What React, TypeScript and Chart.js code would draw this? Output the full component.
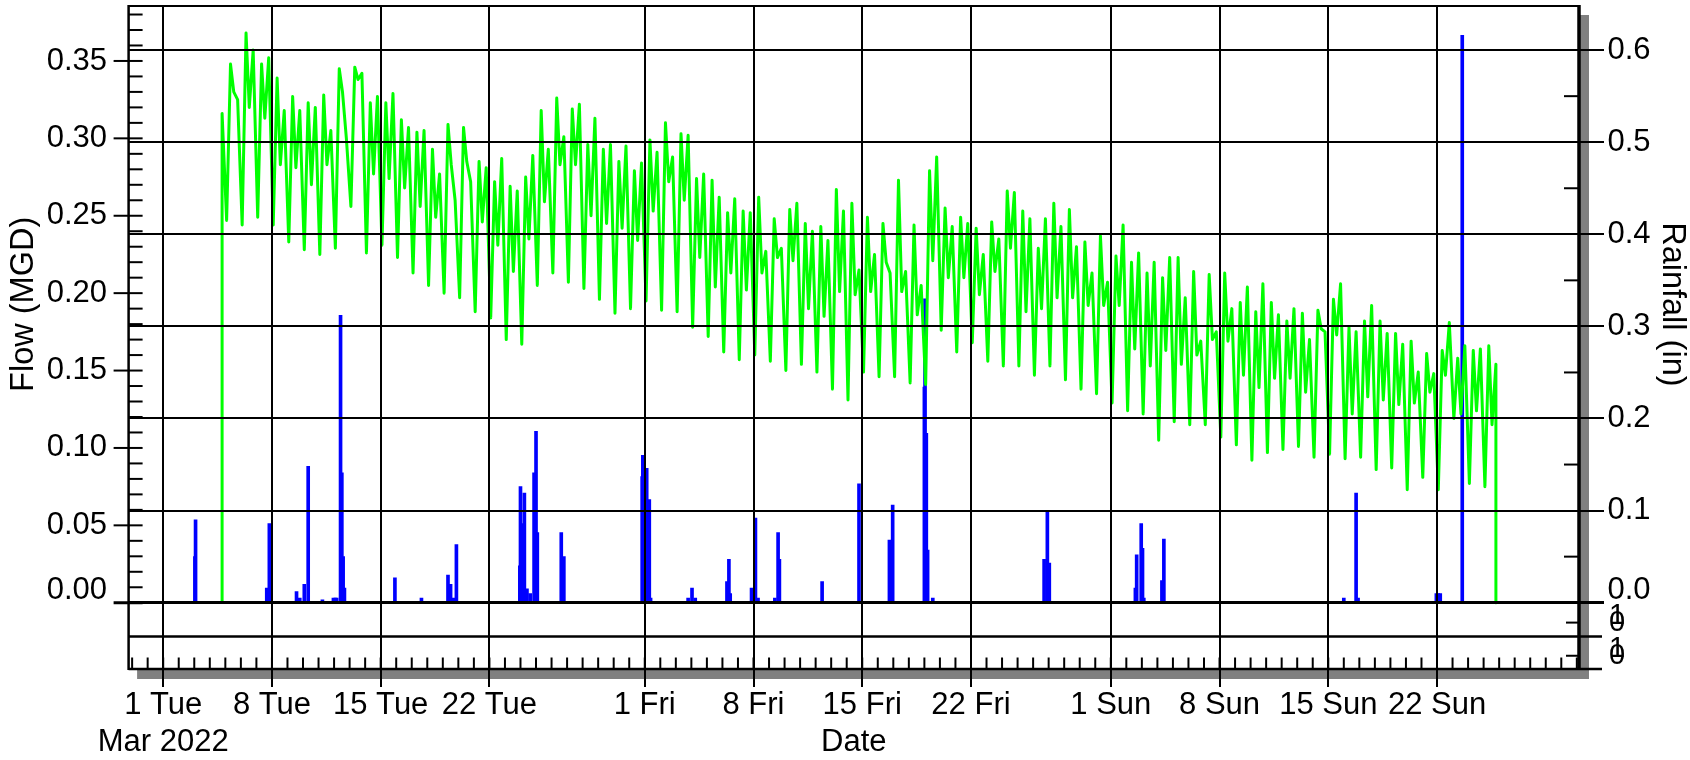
import { useEffect, useRef } from "react";
import { Chart, registerables } from "chart.js";

Chart.register(...registerables);

// ---------------------------------------------------------------------------
// Data
// ---------------------------------------------------------------------------

// Flow (MGD): one row per calendar day, readings taken at the hours in flowSampleHours.
const flowFirstDay = "2022-03-04";
const flowSampleHours = [2, 8, 13, 19];
const flowDaily: (number | null)[][] = [
  [null, null, null, 0.316], // Mar 4 (meter online)
  [0.247, 0.348, 0.33, 0.325],
  [0.244, 0.368, 0.32, 0.357],
  [0.249, 0.348, 0.313, 0.352],
  [0.244, 0.339, 0.283, 0.318],
  [0.233, 0.327, 0.281, 0.318],
  [0.228, 0.323, 0.27, 0.32],
  [0.225, 0.328, 0.283, 0.305],
  [0.229, 0.345, 0.33, 0.3],
  [0.256, 0.346, 0.338, 0.342],
  [0.226, 0.323, 0.277, 0.327],
  [0.231, 0.323, 0.274, 0.329],
  [0.223, 0.312, 0.268, 0.307],
  [0.213, 0.304, 0.256, 0.305],
  [0.205, 0.293, 0.249, 0.277],
  [0.2, 0.309, 0.283, 0.26],
  [0.197, 0.307, 0.285, 0.272],
  [0.188, 0.285, 0.246, 0.281],
  [0.184, 0.272, 0.231, 0.287],
  [0.17, 0.269, 0.214, 0.266],
  [0.167, 0.275, 0.235, 0.289],
  [0.205, 0.318, 0.259, 0.293],
  [0.213, 0.326, 0.283, 0.301],
  [0.207, 0.319, 0.283, 0.322],
  [0.203, 0.296, 0.25, 0.313],
  [0.196, 0.293, 0.245, 0.296],
  [0.187, 0.285, 0.242, 0.295],
  [0.19, 0.279, 0.234, 0.284],
  [0.195, 0.299, 0.253, 0.291], // Apr 1
  [0.189, 0.31, 0.272, 0.288],
  [0.188, 0.303, 0.26, 0.302],
  [0.178, 0.274, 0.223, 0.277],
  [0.172, 0.273, 0.204, 0.262],
  [0.162, 0.252, 0.213, 0.261],
  [0.157, 0.253, 0.202, 0.252],
  [0.16, 0.262, 0.213, 0.227],
  [0.156, 0.248, 0.223, 0.229],
  [0.15, 0.254, 0.221, 0.258],
  [0.154, 0.245, 0.19, 0.24],
  [0.149, 0.243, 0.185, 0.234],
  [0.138, 0.267, 0.201, 0.253],
  [0.131, 0.258, 0.199, 0.215],
  [0.149, 0.249, 0.201, 0.225],
  [0.146, 0.245, 0.22, 0.213],
  [0.146, 0.273, 0.201, 0.214],
  [0.142, 0.244, 0.186, 0.205],
  [0.141, 0.279, 0.221, 0.288],
  [0.176, 0.255, 0.21, 0.243],
  [0.162, 0.249, 0.21, 0.245],
  [0.168, 0.242, 0.199, 0.225],
  [0.156, 0.246, 0.214, 0.235],
  [0.153, 0.266, 0.229, 0.265],
  [0.153, 0.253, 0.188, 0.248],
  [0.147, 0.229, 0.19, 0.248],
  [0.153, 0.258, 0.197, 0.243],
  [0.144, 0.254, 0.197, 0.23],
  [0.138, 0.233, 0.192, 0.213],
  [0.135, 0.237, 0.192, 0.207],
  [0.129, 0.224, 0.192, 0.244], // May 1
  [0.124, 0.22, 0.164, 0.226],
  [0.122, 0.213, 0.153, 0.22],
  [0.105, 0.21, 0.163, 0.223],
  [0.117, 0.223, 0.154, 0.197],
  [0.115, 0.214, 0.16, 0.169],
  [0.115, 0.212, 0.17, 0.175],
  [0.107, 0.213, 0.169, 0.19],
  [0.102, 0.194, 0.147, 0.204],
  [0.092, 0.188, 0.139, 0.206],
  [0.097, 0.194, 0.145, 0.186],
  [0.099, 0.182, 0.145, 0.19],
  [0.101, 0.187, 0.136, 0.17],
  [0.094, 0.189, 0.177, 0.175],
  [0.096, 0.196, 0.173, 0.206],
  [0.093, 0.178, 0.122, 0.175],
  [0.094, 0.182, 0.133, 0.192],
  [0.086, 0.182, 0.131, 0.174],
  [0.087, 0.174, 0.128, 0.167],
  [0.073, 0.169, 0.129, 0.149],
  [0.081, 0.161, 0.136, 0.148],
  [0.073, 0.163, 0.147, 0.181],
  [0.119, 0.158, 0.122, 0.166],
  [0.077, 0.163, 0.124, 0.164],
  [0.075, 0.166, 0.115, 0.154], // May 25 (meter removed)
];

// Hourly rainfall (in), only the hours with a recorded tip.
const rainTimes = [
  "2022-03-03 01:00", "2022-03-03 02:00", "2022-03-07 16:00", "2022-03-07 20:00",
  "2022-03-09 14:00", "2022-03-09 19:00", "2022-03-10 02:00", "2022-03-10 08:00",
  "2022-03-11 06:00", "2022-03-11 23:00", "2022-03-12 02:00", "2022-03-12 04:00",
  "2022-03-12 10:00", "2022-03-12 12:00", "2022-03-12 14:00", "2022-03-12 16:00",
  "2022-03-15 22:00", "2022-03-17 15:00", "2022-03-19 08:00", "2022-03-19 12:00",
  "2022-03-19 17:00", "2022-03-19 21:00", "2022-03-23 23:00", "2022-03-24 00:00",
  "2022-03-24 03:00", "2022-03-24 06:00", "2022-03-24 10:00", "2022-03-24 15:00",
  "2022-03-24 21:00", "2022-03-25 00:00", "2022-03-25 02:00", "2022-03-26 15:00",
  "2022-03-26 19:00", "2022-03-31 20:00", "2022-03-31 21:00", "2022-03-31 23:00",
  "2022-04-01 03:00", "2022-04-01 07:00", "2022-04-01 09:00", "2022-04-03 19:00",
  "2022-04-04 01:00", "2022-04-04 06:00", "2022-04-06 07:00", "2022-04-06 10:00",
  "2022-04-06 12:00", "2022-04-07 21:00", "2022-04-08 03:00", "2022-04-08 07:00",
  "2022-04-09 09:00", "2022-04-09 14:00", "2022-04-09 16:00", "2022-04-12 10:00",
  "2022-04-14 19:00", "2022-04-16 18:00", "2022-04-16 23:00", "2022-04-19 00:00",
  "2022-04-19 01:00", "2022-04-19 03:00", "2022-04-19 05:00", "2022-04-19 13:00",
  "2022-04-26 17:00", "2022-04-26 22:00", "2022-04-27 01:00", "2022-05-02 14:00",
  "2022-05-02 16:00", "2022-05-02 23:00", "2022-05-03 01:00", "2022-05-03 03:00",
  "2022-05-04 07:00", "2022-05-04 10:00", "2022-05-16 00:00", "2022-05-16 19:00",
  "2022-05-16 22:00", "2022-05-21 23:00", "2022-05-22 02:00", "2022-05-22 05:00",
  "2022-05-23 15:00",
];
const rainValues = [
  0.05, 0.09, 0.016, 0.086,
  0.012, 0.005, 0.02, 0.148,
  0.003, 0.005, 0.005, 0.005,
  0.312, 0.141, 0.05, 0.016,
  0.027, 0.005, 0.03, 0.02,
  0.005, 0.063, 0.04, 0.126,
  0.086, 0.119, 0.015, 0.01,
  0.141, 0.186, 0.076, 0.076,
  0.05, 0.137, 0.16, 0.03,
  0.146, 0.112, 0.005, 0.005,
  0.016, 0.005, 0.023, 0.047,
  0.01, 0.016, 0.092, 0.005,
  0.005, 0.076, 0.047, 0.023,
  0.129, 0.068, 0.106, 0.234,
  0.33, 0.184, 0.057, 0.005,
  0.047, 0.099, 0.043, 0.016,
  0.052, 0.086, 0.059, 0.005,
  0.024, 0.069, 0.005, 0.119,
  0.005, 0.01, 0.01, 0.01,
  0.616,
];

// Axis ticks and labels
const flowTicks = [0, 0.05, 0.1, 0.15, 0.2, 0.25, 0.3, 0.35];
const rainTicks = [0, 0.1, 0.2, 0.3, 0.4, 0.5, 0.6];
const dateTickDates = [
  "2022-03-01", "2022-03-08", "2022-03-15", "2022-03-22",
  "2022-04-01", "2022-04-08", "2022-04-15", "2022-04-22",
  "2022-05-01", "2022-05-08", "2022-05-15", "2022-05-22",
];
const dateTickLabels = [
  "1 Tue", "8 Tue", "15 Tue", "22 Tue",
  "1 Fri", "8 Fri", "15 Fri", "22 Fri",
  "1 Sun", "8 Sun", "15 Sun", "22 Sun",
];
const dateTickYearLabel = "Mar 2022";
const stripLabels = ["1", "0"];

// Axis ranges
const dateAxisStart = "2022-02-26 18:33";
const dateAxisEnd = "2022-05-31 03:22";
const flowAxisRange = [-0.0428, 0.3855];
const rainAxisRange = [-0.072, 0.6479];

// ---------------------------------------------------------------------------
// Layout & style
// ---------------------------------------------------------------------------
const CANVAS_W = 1690;
const CANVAS_H = 760;
const PLOT_LEFT = 128.6;
const PLOT_RIGHT = 1579;
const PLOT_TOP = 6;
const PLOT_BOTTOM = 669;
const STRIP_SPLIT_Y = 636.5;
const FONT = "'Liberation Sans', Arial, Helvetica, sans-serif";
const TICK_SIZE = 31;
const TITLE_SIZE = 32.5;
const FLOW_COLOR = "#00ff00";
const RAIN_COLOR = "#0000ff";
const SHADOW = "#808080";

const EPOCH = Date.UTC(2022, 2, 1);
function toDays(stamp: string): number {
  const m = /^(\d{4})-(\d{2})-(\d{2})(?:[ T](\d{2}):(\d{2}))?$/.exec(stamp);
  if (!m) return NaN;
  const t = Date.UTC(+m[1], +m[2] - 1, +m[3], m[4] ? +m[4] : 0, m[5] ? +m[5] : 0);
  return (t - EPOCH) / 86400000;
}

function buildFlowPoints() {
  const start = toDays(flowFirstDay);
  const pts: { x: number; y: number }[] = [];
  flowDaily.forEach((row, d) =>
    row.forEach((v, k) => {
      if (v === null) return;
      pts.push({ x: start + d + flowSampleHours[k] / 24, y: v });
    })
  );
  // the meter reads zero before it is installed and after it is pulled
  pts.unshift({ x: pts[0].x, y: 0 });
  pts.push({ x: pts[pts.length - 1].x, y: 0 });
  return pts;
}

function buildRainPoints() {
  return rainTimes.map((t, i) => ({ x: toDays(t), y: rainValues[i] }));
}

const framePlugin = {
  id: "hydroFrame",
  beforeDraw(chart: any) {
    const { ctx, chartArea: a } = chart;
    ctx.save();
    ctx.fillStyle = "#ffffff";
    ctx.fillRect(0, 0, chart.width, chart.height);
    ctx.fillStyle = SHADOW;
    ctx.fillRect(a.right, a.top + 9, 10, a.bottom - a.top + 1);
    ctx.fillRect(a.left + 8.5, a.bottom, a.right - a.left + 1.5, 10);
    ctx.restore();
  },
  afterDraw(chart: any) {
    const { ctx, chartArea: a, scales } = chart;
    const xs = scales.x;
    const yL = scales.y;
    const yR = scales.y1;
    ctx.save();
    ctx.strokeStyle = "#000";
    ctx.lineCap = "butt";
    const line = (x1: number, y1: number, x2: number, y2: number, w: number) => {
      ctx.lineWidth = w;
      ctx.beginPath();
      ctx.moveTo(x1, y1);
      ctx.lineTo(x2, y2);
      ctx.stroke();
    };

    // frame and the two empty strips under the main panel
    line(a.left, a.top, a.right, a.top, 2);
    line(a.left, a.top - 1, a.left, a.bottom + 1, 2.5);
    line(a.right, a.top - 1, a.right, a.bottom + 1, 3.5);
    line(a.left, a.bottom, a.right + 23, a.bottom, 2.5);
    line(a.left, STRIP_SPLIT_Y, a.right + 23, STRIP_SPLIT_Y, 2.5);

    // flow axis ticks: majors cross the axis, minors point inward
    for (let i = 0; i <= 40; i++) {
      const py = yL.getPixelForValue(i / 100);
      if (py < a.top + 2) continue;
      const major = i % 5 === 0;
      line(major ? a.left - 15 : a.left, py, a.left + 14, py, i === 0 ? 3 : 2);
    }

    // rainfall axis minor ticks
    for (let i = 0; i <= 6; i++) {
      const py = yR.getPixelForValue(i / 10 + 0.05);
      if (py < a.top + 2) continue;
      line(a.right - 15, py, a.right, py, 2);
    }

    // strip ticks and labels
    const zeroY = yR.getPixelForValue(0);
    const strips = [
      [zeroY, STRIP_SPLIT_Y],
      [STRIP_SPLIT_Y, a.bottom],
    ];
    ctx.fillStyle = "#000";
    ctx.font = `29px ${FONT}`;
    ctx.textAlign = "left";
    ctx.textBaseline = "middle";
    strips.forEach(([t, b]) => {
      const mid = (t + b) / 2;
      line(a.right - 13, mid + 3, a.right, mid + 3, 2);
      ctx.fillText(stripLabels[0], a.right + 30, mid - 4);
      ctx.fillText(stripLabels[1], a.right + 30, mid + 3);
    });

    // daily minor ticks on the date axis
    for (let d = Math.ceil(xs.min); d <= Math.floor(xs.max); d++) {
      const px = xs.getPixelForValue(d);
      line(px, a.bottom - 11.5, px, a.bottom, 2);
    }

    // axis titles
    const panelMid = (a.top + zeroY) / 2;
    ctx.font = `${TITLE_SIZE}px ${FONT}`;
    ctx.textAlign = "center";
    ctx.textBaseline = "middle";
    ctx.save();
    ctx.translate(24, panelMid);
    ctx.rotate(-Math.PI / 2);
    ctx.fillText("Flow (MGD)", 0, 0);
    ctx.restore();
    ctx.save();
    ctx.translate(1672, panelMid);
    ctx.rotate(Math.PI / 2);
    ctx.fillText("Rainfall (in)", 0, 0);
    ctx.restore();
    ctx.font = `${TICK_SIZE}px ${FONT}`;
    ctx.fillText("Date", (a.left + a.right) / 2, 742);
    ctx.restore();
  },
};

export default function App() {
  const canvasRef = useRef<HTMLCanvasElement | null>(null);

  useEffect(() => {
    const canvas = canvasRef.current;
    if (!canvas) return;
    const tickFont = { family: FONT, size: TICK_SIZE, lineHeight: 0.82 };

    const chart = new Chart(canvas, {
      type: "line",
      data: {
        datasets: [
          {
            type: "line",
            label: "Flow",
            data: buildFlowPoints(),
            yAxisID: "y",
            borderColor: FLOW_COLOR,
            borderWidth: 3,
            pointRadius: 0,
            tension: 0,
            borderJoinStyle: "round",
            order: 0,
          } as any,
          {
            type: "bar",
            label: "Rainfall",
            data: buildRainPoints(),
            yAxisID: "y1",
            backgroundColor: RAIN_COLOR,
            barThickness: 3,
            order: 1,
          } as any,
        ],
      },
      options: {
        animation: false,
        responsive: false,
        devicePixelRatio: 1,
        events: [],
        layout: { padding: { top: PLOT_TOP, left: 0, right: 0, bottom: 0 } },
        plugins: { legend: { display: false }, tooltip: { enabled: false } },
        scales: {
          x: {
            type: "linear",
            position: "bottom",
            offset: false,
            min: toDays(dateAxisStart),
            max: toDays(dateAxisEnd),
            afterBuildTicks: (s: any) => {
              s.ticks = dateTickDates.map((d) => ({ value: toDays(d) }));
            },
            afterFit: (s: any) => {
              s.height = CANVAS_H - PLOT_BOTTOM;
              s.paddingLeft = 0;
              s.paddingRight = 0;
            },
            ticks: {
              autoSkip: false,
              maxRotation: 0,
              minRotation: 0,
              padding: 0.5,
              color: "#000",
              font: { family: FONT, size: TICK_SIZE, lineHeight: 1.18 },
              callback: (_v: any, i: number) =>
                i === 0 ? [dateTickLabels[0], dateTickYearLabel] : dateTickLabels[i],
            },
            grid: {
              offset: false,
              color: "#000",
              lineWidth: 2,
              drawTicks: true,
              tickLength: 18,
              tickWidth: 2,
              tickColor: "#000",
              z: 1,
            },
            border: { display: false },
          },
          y: {
            type: "linear",
            position: "left",
            min: flowAxisRange[0],
            max: flowAxisRange[1],
            afterBuildTicks: (s: any) => {
              s.ticks = flowTicks.map((v) => ({ value: v }));
            },
            afterFit: (s: any) => {
              s.width = PLOT_LEFT;
              s.paddingTop = 0;
              s.paddingBottom = 0;
            },
            ticks: {
              padding: 6.5,
              color: "#000",
              font: tickFont,
              callback: (v: any) => (v === 0 ? [(0).toFixed(2), ""] : Number(v).toFixed(2)),
            },
            grid: {
              drawOnChartArea: false,
              drawTicks: true,
              tickLength: 15,
              tickColor: "rgba(0,0,0,0)",
            },
            border: { display: false },
          },
          y1: {
            type: "linear",
            position: "right",
            min: rainAxisRange[0],
            max: rainAxisRange[1],
            afterBuildTicks: (s: any) => {
              s.ticks = rainTicks.map((v) => ({ value: v }));
            },
            afterFit: (s: any) => {
              s.width = CANVAS_W - PLOT_RIGHT;
              s.paddingTop = 0;
              s.paddingBottom = 0;
            },
            ticks: {
              padding: 3.5,
              color: "#000",
              font: tickFont,
              callback: (v: any) => (v === 0 ? [(0).toFixed(1), ""] : Number(v).toFixed(1)),
            },
            grid: {
              color: "#000",
              lineWidth: (c: any) => (c.tick && c.tick.value === 0 ? 3 : 2),
              drawTicks: true,
              tickLength: 25,
              tickWidth: (c: any) => (c.tick && c.tick.value === 0 ? 3 : 2),
              tickColor: "#000",
              z: 1,
            },
            border: { display: false },
          },
        },
      } as any,
      plugins: [framePlugin],
    });

    return () => chart.destroy();
  }, []);

  return (
    <div
      style={{
        position: "absolute",
        left: 0,
        top: 0,
        width: CANVAS_W,
        height: CANVAS_H,
        background: "#fff",
      }}
    >
      <canvas
        ref={canvasRef}
        width={CANVAS_W}
        height={CANVAS_H}
        style={{ display: "block", width: CANVAS_W, height: CANVAS_H }}
      />
    </div>
  );
}
